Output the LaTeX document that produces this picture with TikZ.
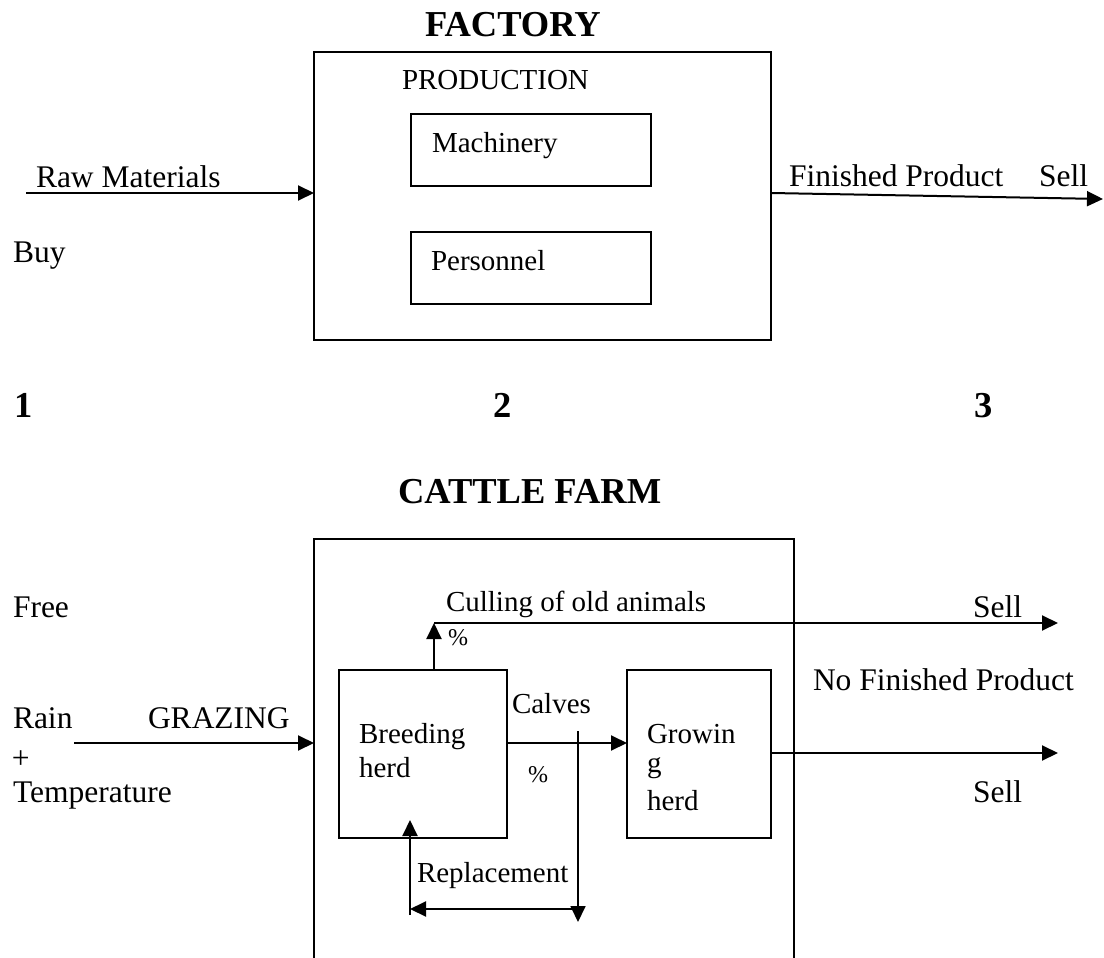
\documentclass[tikz,border=0pt]{standalone}
\usepackage{fontspec}
\setmainfont{Liberation Serif}
\usetikzlibrary{arrows.meta}
\tikzset{
  lbl/.style={anchor=base west, inner sep=0pt, outer sep=0pt, font=\fontsize{31.5}{36}\selectfont},
  sm/.style={anchor=base west, inner sep=0pt, outer sep=0pt, font=\fontsize{29}{34}\selectfont},
  pct/.style={anchor=base west, inner sep=0pt, outer sep=0pt, font=\fontsize{24}{28}\selectfont},
  ttl/.style={anchor=base west, inner sep=0pt, outer sep=0pt, font=\fontsize{36.5}{40}\selectfont\bfseries},
  box/.style={draw, line width=2pt, anchor=north west, inner sep=0pt, outer sep=0pt},
  arr/.style={line width=2pt, -{Triangle[length=16pt,width=15pt]}},
  ln/.style={line width=2pt}
}
\begin{document}
\begin{tikzpicture}[x=1pt, y=-1pt]
\useasboundingbox (0,0) rectangle (1104,958);
\clip (0,0) rectangle (1104,958);
\fill[white] (0,0) rectangle (1104,958);
% ---------- FACTORY ----------
\node[ttl] (factorytitle) at (425,37) {FACTORY};
\node[box, minimum width=457pt, minimum height=288pt] (factory) at (314,52) {};
\node[sm] (prod) at (402,90) {PRODUCTION};
\node[box, minimum width=240pt, minimum height=72pt] (machbox) at (411,114) {};
\node[sm] (mach) at (432,152) {Machinery};
\node[box, minimum width=240pt, minimum height=72pt] (persbox) at (411,232) {};
\node[sm] (pers) at (431,270) {Personnel};
\node[lbl] (raw) at (36,187) {Raw Materials};
\node[lbl] (buy) at (13,262) {Buy};
\node[lbl] (fp) at (789,186) {Finished Product};
\node[lbl] (sellf) at (1039,186) {Sell};
\coordinate (rawstart) at (26,193);
\coordinate (fpend) at (1103,199);
\draw[arr] (rawstart) -- (rawstart -| factory.west);
\draw[arr] (factory.east |- rawstart) -- (fpend);
% ---------- numbers ----------
\node[ttl] (n1) at (14,417) {1};
\node[ttl] (n2) at (493,417) {2};
\node[ttl] (n3) at (974,417) {3};
% ---------- CATTLE FARM ----------
\node[ttl] (cattletitle) at (398,503) {CATTLE FARM};
\node[box, minimum width=480pt, minimum height=470pt] (cattle) at (314,539) {};
\node[lbl] (free) at (13,617) {Free};
\node[lbl] (rain) at (13,728) {Rain};
\node[lbl] (grazing) at (148,728) {GRAZING};
\node[lbl] (plus) at (12,768) {+};
\node[lbl] (temp) at (13,802) {Temperature};
\node[box, minimum width=168pt, minimum height=168pt] (breed) at (339,670) {};
\node[sm] (breed1) at (359,743) {Breeding};
\node[sm] (breed2) at (359,777) {herd};
\node[box, minimum width=144pt, minimum height=168pt] (grow) at (627,670) {};
\node[sm] (grow1) at (647,743) {Growin};
\node[sm] (grow2) at (647,772) {g};
\node[sm] (grow3) at (647,810) {herd};
\node[sm] (cull) at (446,611) {Culling of old animals};
\node[pct] (pct1) at (448,645) {\%};
\node[sm] (calves) at (512,713) {Calves};
\node[pct] (pct2) at (528,782) {\%};
\node[sm] (repl) at (417,882) {Replacement};
\node[lbl] (sellc1) at (973,617) {Sell};
\node[lbl] (nfp) at (813,690) {No Finished Product};
\node[lbl] (sellc2) at (973,802) {Sell};
% connectors
\coordinate (grazstart) at (74,743);
\draw[arr] (grazstart) -- (grazstart -| cattle.west);
\coordinate (cullcorner) at (434,623);
\coordinate (cullend) at (1058,623);
\draw[arr] (breed.north -| cullcorner) -- (cullcorner);
\draw[arr] (cullcorner) -- (cullend);
\coordinate (calvesrow) at (0,743);
\draw[arr] (breed.east |- calvesrow) -- (grow.west |- calvesrow);
\coordinate (vtop) at (578,731);
\coordinate (vbot) at (578,922);
\draw[arr, line width=1.8pt] (vtop) -- (vbot);
\coordinate (replcorner) at (410,909);
\draw[arr] (vtop |- replcorner) -- (replcorner);
\coordinate (replbase) at (410,915);
\coordinate (repltip) at (410,820);
\draw[arr] (replbase) -- (repltip);
\coordinate (growrow) at (0,753);
\coordinate (growend) at (1058,753);
\draw[arr] (grow.east |- growrow) -- (growend);
\end{tikzpicture}
\end{document}
